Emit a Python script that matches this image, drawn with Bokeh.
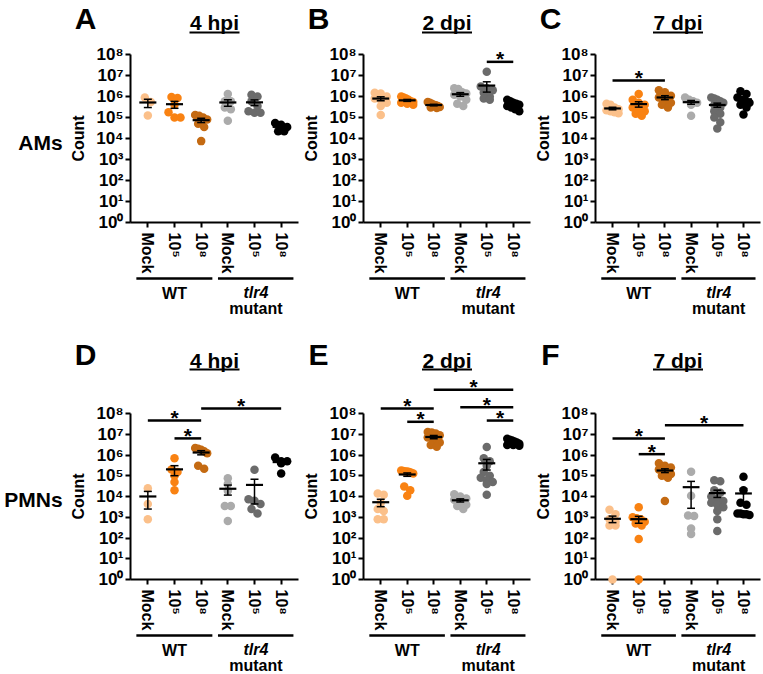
import numpy as np
from bokeh.plotting import figure
from bokeh.models import Range1d, FixedTicker, CustomJSTickFormatter, LinearScale
from bokeh.layouts import row, column
from bokeh.embed import file_html
from bokeh.resources import INLINE
from bokeh.core.properties import value

FONT = "Liberation Sans"

# ---------------- data ----------------
categories = ["Mock", "10\u2075", "10\u2078", "Mock", "10\u2075", "10\u2078"]
group_colors = ["#FBC08A", "#F98212", "#C46A12", "#ABABAB", "#6B6B6B", "#000000"]
y_exponents = [0, 1, 2, 3, 4, 5, 6, 7, 8]

panel_A = [  # AMs, 4 hpi
    [8.9e5, 5.4e5, 1.26e5],
    [9.5e5, 8.5e5, 4e5, 1.8e5, 1e5, 1e5],
    [1.3e5, 1.2e5, 1e5, 8e4, 5e4, 3.5e4, 7.5e3],
    [1.3e6, 6e5, 6e5, 3e5, 2.5e5, 7e4],
    [1.2e6, 1e6, 6e5, 3.5e5, 2e5, 1.7e5, 1.7e5],
    [5.5e4, 4.5e4, 3.5e4, 2.2e4, 2.2e4],
]
panel_B = [  # AMs, 2 dpi
    [1.5e6, 1.4e6, 1e6, 8e5, 7e5, 5e5, 3.5e5, 1.3e5],
    [1e6, 9e5, 8e5, 7e5, 6e5, 5.5e5, 5e5, 4.5e5, 4e5],
    [5.5e5, 5e5, 4.5e5, 4e5, 3.8e5, 3.5e5, 3.2e5, 3e5, 2.8e5],
    [2.5e6, 2.3e6, 1.6e6, 1.4e6, 1.2e6, 1e6, 7e5, 4.5e5, 3.5e5],
    [1.5e7, 3e6, 2.5e6, 2e6, 1.5e6, 1e6, 8e5, 7e5],
    [7e5, 6e5, 5e5, 4.5e5, 4e5, 3.5e5, 3e5, 2.5e5, 2e5],
]
panel_C = [  # AMs, 7 dpi
    [4.5e5, 4e5, 3e5, 2.5e5, 2.2e5, 2e5, 1.8e5, 1.6e5],
    [1.3e6, 7e5, 5e5, 4e5, 3e5, 2.5e5, 2e5, 1.5e5, 1.2e5],
    [2e6, 1.6e6, 1.1e6, 9e5, 7e5, 6e5, 5e5, 4e5, 3e5],
    [9e5, 7e5, 6e5, 5e5, 4e5, 1.2e5],
    [9e5, 8e5, 7e5, 6e5, 5e5, 4e5, 3e5, 2e5, 1.5e5, 1e5, 6e4, 3e4],
    [1.8e6, 1.3e6, 9e5, 7e5, 6e5, 5e5, 4e5, 3e5, 1.4e5],
]
panel_D = [  # PMNs, 4 hpi
    [2.5e4, 4.3e3, 8e2],
    [7e5, 2e5, 1.5e5, 1e5, 5e4, 2e4],
    [2.2e6, 2e6, 1.8e6, 1.5e6, 1.2e6, 3e5, 2.2e5],
    [7.5e4, 4e4, 1.9e4, 3.5e3, 3.5e3, 6.6e2],
    [1.95e5, 7.4e3, 6.2e3, 4.3e3, 2.5e3, 1.5e3],
    [7.5e5, 5e5, 5e5, 4e5, 1.3e5],
]
panel_E = [  # PMNs, 2 dpi
    [1.4e4, 1.2e4, 5e3, 2.5e3, 2e3, 8e2, 8e2],
    [1.8e5, 1.7e5, 1.6e5, 1.6e5, 1.5e5, 1.4e5, 1.3e5, 3e4, 2e4, 1.1e4],
    [1.3e7, 1.2e7, 1.1e7, 9e6, 7e6, 5e6, 4e6, 3e6, 2.5e6],
    [1.3e4, 1e4, 8e3, 7e3, 6e3, 5e3, 4e3, 3.5e3, 2.5e3],
    [2.4e6, 7e5, 5e5, 3e5, 1.5e5, 1e5, 8e4, 6e4, 5e4, 4e4, 1.2e4],
    [6e6, 5.5e6, 5e6, 4.5e6, 4e6, 3.5e6, 3e6, 3e6, 2.8e6],
]
panel_F = [  # PMNs, 7 dpi
    [2.3e3, 1.4e3, 8e2, 6e2, 4e2, 4e2, 1],
    [3e3, 1e3, 9e2, 8e2, 6e2, 5e2, 4e2, 9e1, 1],
    [4e5, 3e5, 2.5e5, 2e5, 1.8e5, 1.5e5, 1.2e5, 1e5, 8e4, 6e3],
    [1.55e5, 1.1e4, 1.2e3, 1.15e3, 2.9e2, 1.55e2],
    [6e4, 5.5e4, 2e4, 1.5e4, 1e4, 8e3, 6e3, 5e3, 4e3, 3e3, 2e3, 8e2, 2.2e2],
    [9e4, 2e4, 5e3, 4e3, 1.5e3, 1.5e3, 1.4e3, 1.4e3, 1.3e3],
]

# significance bars: (from category, to category, log10 height)
sig_A = []
sig_B = [(5, 6, 7.65)]
sig_C = [(1, 3, 6.76)]
sig_D = [(1, 3, 7.66), (2, 3, 6.8), (3, 6, 8.24)]
sig_E = [(1, 3, 8.24), (2, 3, 7.6), (3, 6, 9.14), (4, 6, 8.3), (5, 6, 7.66)]
sig_F = [(1, 3, 6.8), (2, 3, 6.04), (3, 6, 7.43)]

group_names = ["WT", "tlr4", "mutant"]


def bin_offsets(vals, px_per_dec, dy=5.5, step=6.0, maxw=12.0):
    """GraphPad-like scatter: bin points along y, spread each bin symmetrically."""
    ys = np.log10(np.asarray(vals, dtype=float)) * px_per_dec
    order = np.argsort(-ys, kind="stable")
    bins, cur, start = [], [], None
    for i in order:
        if start is None or start - ys[i] > dy:
            if cur:
                bins.append(cur)
            cur, start = [i], ys[i]
        else:
            cur.append(i)
    if cur:
        bins.append(cur)
    offs = np.zeros(len(ys))
    for k, b in enumerate(bins):
        n = len(b)
        if n == 1:
            continue
        s = min(step, maxw / (n - 1))
        for j, i in enumerate(b):
            offs[i] = (j - (n - 1) / 2) * s
    return offs


def make_panel(groups, sigs, letter, title, row_label, mb_left, fw, mb_right,
               fh, mb_top, mb_bottom, letter_up, title_up, line_up, label_x):
    ppu = fw / 6.3
    ppd = fh / 8.0
    p = figure(frame_width=fw, frame_height=fh, y_axis_type="log",
               x_range=Range1d(0.35, 6.65), y_range=Range1d(1, 1e8),
               output_backend="svg", toolbar_location=None,
               min_border_left=mb_left, min_border_right=mb_right,
               min_border_top=mb_top, min_border_bottom=mb_bottom,
               background_fill_color="white", border_fill_color="white")
    p.extra_x_ranges = {"px": Range1d(0, fw)}
    p.extra_y_ranges = {"px": Range1d(0, fh)}
    p.extra_x_scales = {"px": LinearScale()}
    p.extra_y_scales = {"px": LinearScale()}
    p.xgrid.visible = False
    p.ygrid.visible = False
    p.outline_line_color = None

    for ax in (p.xaxis[0], p.yaxis[0]):
        ax.axis_line_width = 2
        ax.axis_line_color = "black"
        ax.major_tick_line_width = 2
        ax.major_tick_line_color = "black"
        ax.major_tick_out = 5
        ax.major_tick_in = 0
        ax.minor_tick_line_color = None
        ax.major_label_text_font = FONT
        ax.major_label_text_font_style = "bold"
        ax.major_label_text_color = "black"

    xa = p.xaxis[0]
    xa.ticker = FixedTicker(ticks=[1, 2, 3, 4, 5, 6])
    xa.formatter = CustomJSTickFormatter(args=dict(labels=categories),
                                         code="return labels[Math.round(tick) - 1];")
    xa.major_label_orientation = "vertical"
    xa.major_label_standoff = 5
    xa.major_label_text_font_size = "16px"

    ya = p.yaxis[0]
    ya.ticker = FixedTicker(ticks=[10.0 ** e for e in y_exponents])
    ya.formatter = CustomJSTickFormatter(code="""
        const sup = ["\u2070","\u00b9","\u00b2","\u00b3","\u2074","\u2075","\u2076","\u2077","\u2078","\u2079"];
        const e = Math.round(Math.log10(tick));
        return "10" + sup[e];
    """)
    ya.major_label_text_font_size = "17px"
    ya.major_label_standoff = 2
    ya.axis_label = "Count"
    ya.axis_label_text_font = FONT
    ya.axis_label_text_font_size = "16px"
    ya.axis_label_text_font_style = "bold"
    ya.axis_label_text_color = "black"
    ya.axis_label_standoff = 6

    # data points
    for i, vals in enumerate(groups):
        offs = bin_offsets(vals, ppd)
        xs = [(i + 1) + o / ppu for o in offs]
        p.scatter(xs, vals, size=8.5, fill_color=group_colors[i], line_color=None,
                  level="overlay")

    # mean +/- SEM
    for i, vals in enumerate(groups):
        arr = np.asarray(vals, dtype=float)
        m = arr.mean()
        se = arr.std(ddof=1) / np.sqrt(len(arr))
        lo = max(m - se, 1.0)
        hi = m + se
        xc = i + 1
        p.segment([xc - 0.32], [m], [xc + 0.32], [m], line_width=2.2,
                  line_color="black", level="overlay")
        p.segment([xc, xc - 0.15, xc - 0.15], [lo, hi, lo],
                  [xc, xc + 0.15, xc + 0.15], [hi, hi, lo],
                  line_width=1.5, line_color="black", level="overlay")

    # significance bars
    for (a, b, h) in sigs:
        p.segment([a], [10 ** h], [b], [10 ** h], line_width=2.5,
                  line_color="black", level="overlay")
        p.text([(a + b) / 2], [10 ** h], text=["*"], text_font=value(FONT),
               text_font_size=value("21px"), text_font_style="bold",
               text_align="center", text_baseline="middle", y_offset=-3,
               text_color="black", level="overlay")

    # group lines and labels under the axis
    p.segment([0.57, 3.63], [-56, -56], [3.42, 6.46], [-56, -56],
              y_range_name="px", line_width=2.5, line_color="black", level="overlay")
    p.text([2.0], [-71], text=[group_names[0]], y_range_name="px",
           text_font=value(FONT), text_font_size=value("16px"), text_font_style="bold",
           text_align="center", text_baseline="middle", level="overlay")
    p.text([5.05], [-70], text=[group_names[1]], y_range_name="px",
           text_font=value(FONT), text_font_size=value("16px"), text_font_style="bold italic",
           text_align="center", text_baseline="middle", level="overlay")
    p.text([5.05], [-86], text=[group_names[2]], y_range_name="px",
           text_font=value(FONT), text_font_size=value("16px"), text_font_style="bold",
           text_align="center", text_baseline="middle", level="overlay")

    # panel letter, title and underline
    p.text([-45], [fh + letter_up], text=[letter], x_range_name="px", y_range_name="px",
           text_font=value(FONT), text_font_size=value("30px"), text_font_style="bold",
           text_align="center", text_baseline="middle", level="overlay")
    p.text([fw / 2], [fh + title_up], text=[title], x_range_name="px", y_range_name="px",
           text_font=value(FONT), text_font_size=value("21px"), text_font_style="bold",
           text_align="center", text_baseline="middle", level="overlay")
    p.segment([fw / 2 - 25], [fh + line_up], [fw / 2 + 25], [fh + line_up],
              x_range_name="px", y_range_name="px", line_width=2,
              line_color="black", level="overlay")

    if row_label is not None:
        p.text([label_x], [80], text=[row_label], x_range_name="px", y_range_name="px",
               text_font=value(FONT), text_font_size=value("21px"), text_font_style="bold",
               text_align="center", text_baseline="middle", level="overlay")
    return p


# row 1: height 330 (frame 54..222); row 2: height 344 (frame 413..579)
pA = make_panel(panel_A, sig_A, "A", "4 hpi", "AMs", 130, 168, 2, 168, 54, 108, 36, 32, 22, -90)
pB = make_panel(panel_B, sig_B, "B", "2 dpi", None, 60, 167, 2, 168, 54, 108, 36, 32, 22, 0)
pC = make_panel(panel_C, sig_C, "C", "7 dpi", None, 63, 165, 6, 168, 54, 108, 36, 32, 22, 0)
pD = make_panel(panel_D, sig_D, "D", "4 hpi", "PMNs", 130, 168, 2, 166, 83, 95, 59, 53, 44, -97)
pE = make_panel(panel_E, sig_E, "E", "2 dpi", None, 60, 167, 2, 166, 83, 95, 59, 53, 44, 0)
pF = make_panel(panel_F, sig_F, "F", "7 dpi", None, 63, 165, 6, 166, 83, 95, 59, 53, 44, 0)

layout = column(row(pA, pB, pC), row(pD, pE, pF))

open("out.html", "w").write(file_html(layout, INLINE))
